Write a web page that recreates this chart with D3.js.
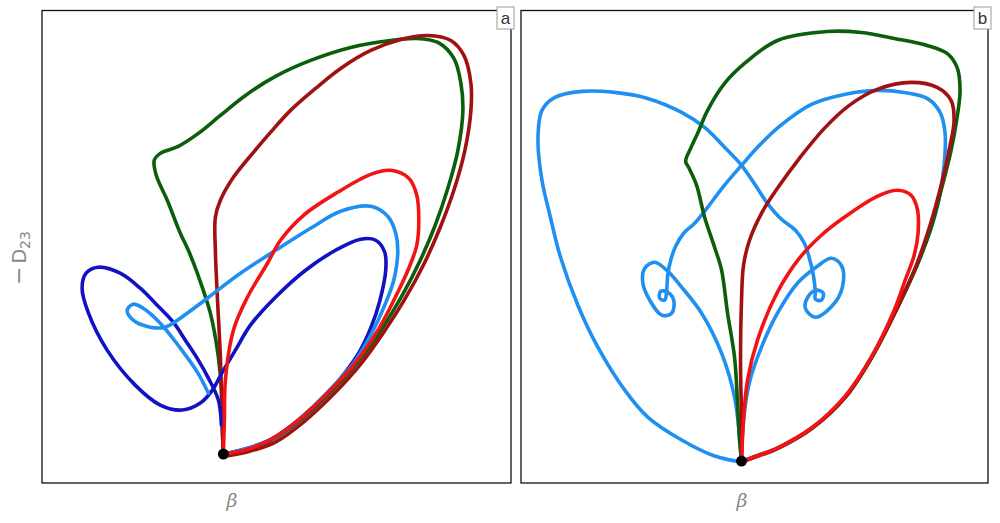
<!DOCTYPE html>
<html>
<head>
<meta charset="utf-8">
<script src="https://cdn.jsdelivr.net/npm/d3@7"></script>
<style>
  body { margin: 0; background: #fff; }
  svg { display: block; }
</style>
</head>
<body>
<div id="chart"></div>
<script>
// trajectories in the (beta, -D23) plane, arbitrary units
var panelA_green = [[181,31],[180,53],[180,80],[176,126],[168,170],[155,210],[146,233],[138,250],[125,283],[114,308],[112,323],[118,330],[136,337],[156,350],[178,368],[203,388],[233,407],[268,423],[308,436],[348,443],[373,445],[395,441],[411,425],[418,400],[420,373],[415,333],[405,295],[392,257],[377,222],[359,187],[339,154],[316,122],[289,92],[259,64],[231,44],[207,34],[183,28]];
var panelA_darkred = [[181,31],[180,53],[178,126],[175,186],[173,233],[173,266],[178,283],[191,306],[211,331],[228,351],[248,373],[273,395],[298,415],[328,433],[358,444],[385,448],[408,443],[421,428],[428,400],[428,373],[422,333],[411,293],[397,255],[381,219],[362,184],[341,151],[318,119],[291,89],[261,61],[233,41],[208,32],[184,27]];
var panelA_red = [[181,31],[182,63],[183,103],[191,153],[205,186],[225,220],[238,243],[261,268],[295,291],[328,309],[348,313],[366,305],[374,288],[376,263],[374,238],[366,215],[356,193],[337,156],[314,122],[287,92],[257,64],[229,44],[206,34],[182,29]];
var panelA_lightblue = [[166,90],[155,111],[138,135],[118,160],[101,175],[91,179],[85,173],[91,163],[108,156],[123,156],[138,165],[165,185],[198,210],[238,236],[268,255],[298,272],[328,277],[345,267],[353,250],[355,231],[351,203],[342,178],[328,148],[311,120],[286,92],[257,64],[229,44],[206,35],[182,29]];
var panelA_darkblue = [[179,58],[176,83],[166,105],[156,123],[143,143],[131,161],[113,180],[98,195],[78,210],[56,216],[44,210],[40,195],[46,171],[65,133],[93,98],[118,78],[140,73],[158,80],[170,93],[180,111],[193,133],[208,158],[233,186],[263,213],[293,233],[318,244],[333,243],[342,231],[343,213],[337,182],[328,155],[316,130],[302,110],[287,92],[257,64],[229,44],[206,35],[182,29]];

var panelB_green = [[221,23],[219,43],[217,80],[214,126],[207,170],[201,213],[194,236],[184,266],[176,298],[168,316],[165,322],[170,335],[177,350],[187,373],[204,400],[224,420],[257,443],[307,452],[341,451],[374,445],[407,438],[427,430],[437,416],[440,393],[437,366],[431,333],[421,293],[411,256],[397,218],[377,175],[353,128],[326,87],[293,56],[259,36],[233,26],[221,21]];
var panelB_darkred = [[221,23],[221,63],[220,120],[221,183],[223,218],[229,243],[241,270],[257,295],[279,325],[304,355],[329,378],[357,394],[391,401],[417,396],[431,383],[434,363],[430,338],[421,298],[409,255],[395,215],[376,173],[352,127],[325,86],[292,55],[258,35],[232,25],[221,21]];
var panelB_red = [[221,23],[223,63],[227,103],[237,143],[257,191],[279,225],[301,248],[324,266],[357,287],[377,293],[391,288],[397,275],[398,251],[394,228],[385,203],[374,173],[351,126],[324,86],[291,55],[257,35],[231,25],[221,21]];
var panelB_lightblue1 = [[221,23],[223,63],[229,101],[241,136],[257,170],[277,200],[297,217],[311,225],[321,218],[323,201],[315,181],[295,166],[285,175],[288,187],[296,193],[303,190],[301,183],[295,184],[295,191],[293,208],[289,225],[284,240],[275,253],[261,264],[247,280],[235,298],[221,318],[207,333],[184,356],[161,371],[127,385],[94,391],[61,392],[34,386],[21,373],[17,343],[21,303],[29,268],[39,228],[57,178],[77,136],[104,93],[127,66],[161,43],[194,27],[221,21]];
var panelB_lightblue2 = [[221,23],[220,36],[214,86],[201,130],[181,170],[161,196],[146,213],[134,221],[124,215],[122,201],[129,183],[141,168],[151,170],[153,183],[147,191],[140,192],[139,185],[144,183],[146,193],[147,208],[150,223],[155,237],[163,250],[174,260],[187,276],[203,297],[221,318],[239,338],[259,357],[291,379],[324,389],[357,393],[384,391],[407,385],[420,371],[425,350],[424,318],[419,285],[411,255],[397,219],[376,174],[352,127],[325,86],[292,55],[258,35],[232,25],[221,21]];

var fixedPoints = [[181,29],[221,22]];
var panelNames = ["a", "b"];
var xLabel = "β";

var ctx = {
    w: 1000,
    h: 523,
    top: 10.5,
    bottom: 483,
    panels: [
        {left: 42, right: 511, labelX: 232},
        {left: 521, right: 988, labelX: 742}
    ],
    colors: {
        green: "#0b5e0b",
        darkred: "#a01212",
        red: "#f21414",
        lightblue: "#1f8ff0",
        darkblue: "#1212c2"
    }
};

var series = [
    [
        {data: panelA_green, color: "green"},
        {data: panelA_darkred, color: "darkred"},
        {data: panelA_darkblue, color: "darkblue"},
        {data: panelA_lightblue, color: "lightblue"},
        {data: panelA_red, color: "red"}
    ],
    [
        {data: panelB_lightblue1, color: "lightblue"},
        {data: panelB_lightblue2, color: "lightblue"},
        {data: panelB_green, color: "green"},
        {data: panelB_darkred, color: "darkred"},
        {data: panelB_red, color: "red"}
    ]
];

var createViz = function() {
    var svgEl = d3.select("#chart").append("svg")
        .attr("width", ctx.w)
        .attr("height", ctx.h);

    ctx.panels.forEach(function(p, i) {
        drawPanel(svgEl, p, i);
    });
    addYLabel(svgEl);
};

var drawPanel = function(svgEl, p, i) {
    var x = d3.scaleLinear().domain([0, 468]).range([p.left, p.right]);
    var y = d3.scaleLinear().domain([0, 473]).range([ctx.bottom, ctx.top]);

    var g = svgEl.append("g").attr("class", "panel");

    var line = d3.line()
        .x(d => x(d[0]))
        .y(d => y(d[1]))
        .curve(d3.curveCatmullRom.alpha(0.5));

    g.selectAll("path.traj")
        .data(series[i])
        .enter()
        .append("path")
        .attr("class", "traj")
        .attr("d", d => line(d.data))
        .attr("fill", "none")
        .attr("stroke", d => ctx.colors[d.color])
        .attr("stroke-width", 3.6)
        .attr("stroke-linejoin", "round")
        .attr("stroke-linecap", "round");

    g.append("circle")
        .attr("cx", x(fixedPoints[i][0]))
        .attr("cy", y(fixedPoints[i][1]))
        .attr("r", 5.5)
        .attr("fill", "#000");

    g.append("rect")
        .attr("x", p.left)
        .attr("y", ctx.top)
        .attr("width", p.right - p.left)
        .attr("height", ctx.bottom - ctx.top)
        .attr("fill", "none")
        .attr("stroke", "#111")
        .attr("stroke-width", 1.3);

    // panel tag in the upper right corner
    g.append("rect")
        .attr("x", p.right - 14)
        .attr("y", 7)
        .attr("width", 17)
        .attr("height", 22)
        .attr("fill", "#fff")
        .attr("stroke", "#999")
        .attr("stroke-width", 1);

    g.append("text")
        .attr("x", p.right - 5.5)
        .attr("y", 24)
        .attr("text-anchor", "middle")
        .attr("font-family", "Liberation Sans, Arial, sans-serif")
        .attr("font-size", "17px")
        .attr("fill", "#333")
        .text(panelNames[i]);

    g.append("text")
        .attr("x", p.labelX)
        .attr("y", 507)
        .attr("text-anchor", "middle")
        .attr("font-family", "DejaVu Serif, serif")
        .attr("font-style", "italic")
        .attr("font-size", "19px")
        .attr("fill", "#888")
        .text(xLabel);
};

var addYLabel = function(svgEl) {
    var t = svgEl.append("text")
        .attr("transform", "translate(26,258) rotate(-90)")
        .attr("text-anchor", "middle")
        .attr("font-family", "DejaVu Sans, sans-serif")
        .attr("fill", "#888");
    t.append("tspan").attr("font-size", "22px").text("−");
    t.append("tspan").attr("font-size", "19px").attr("dx", 3).text("D");
    t.append("tspan")
        .attr("font-size", "14px")
        .attr("dy", 4)
        .text("23");
};

createViz();
</script>
</body>
</html>
